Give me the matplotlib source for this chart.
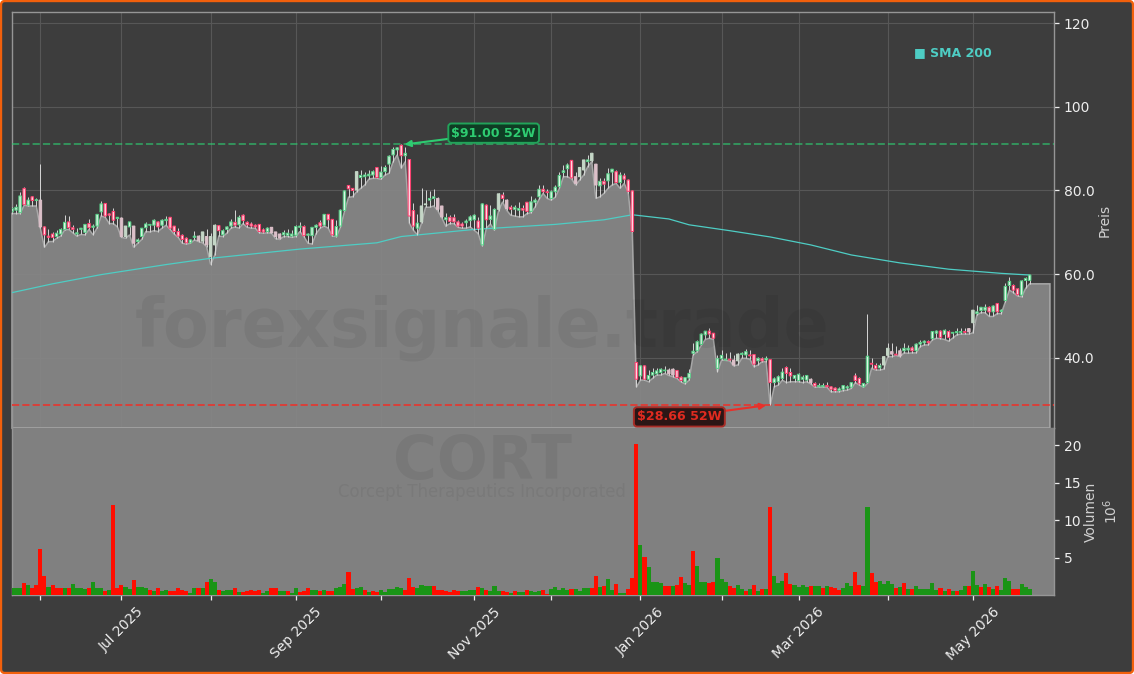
from matplotlib import pyplot as plt
from matplotlib.patches import FancyBboxPatch
from matplotlib.transforms import IdentityTransform

# Daily candles, one row of ten per line
opens = [
    74.9, 75.3, 74.7, 80.5, 76.5, 78.5, 77.6, 77.7, 71.3, 69.1,
    69.6, 69.0, 69.6, 70.7, 72.5, 71.1, 69.6, 70.7, 70.0, 72.1,
    71.2, 71.5, 74.9, 76.9, 74.4, 75.0, 73.3, 73.4, 69.0, 71.3,
    71.5, 67.8, 69.0, 71.1, 71.7, 71.7, 72.5, 71.7, 72.8, 73.6,
    71.5, 70.2, 69.3, 68.6, 67.5, 68.8, 69.1, 67.9, 69.0, 64.2,
    67.0, 71.6, 69.4, 70.7, 71.5, 72.4, 71.8, 74.1, 72.4, 72.0,
    71.7, 71.9, 70.6, 70.2, 71.2, 70.1, 69.6, 69.4, 69.3, 69.1,
    69.3, 71.2, 71.4, 69.3, 69.2, 71.2, 72.3, 71.7, 74.3, 73.1,
    69.1, 71.5, 75.2, 81.2, 80.5, 80.1, 83.1, 83.3, 83.5, 83.7,
    85.5, 83.1, 84.5, 86.3, 88.5, 89.7, 90.8, 88.3, 87.4, 75.2,
    71.0, 72.5, 76.6, 77.7, 78.1, 78.1, 76.3, 73.0, 73.6, 73.5,
    72.5, 72.0, 72.3, 72.8, 73.0, 72.7, 67.0, 76.5, 73.1, 70.7,
    75.5, 78.9, 77.7, 76.0, 75.5, 75.3, 75.7, 77.2, 75.0, 77.2,
    78.5, 80.3, 79.7, 78.1, 79.7, 80.9, 84.3, 85.2, 87.2, 83.3,
    83.3, 84.9, 86.9, 87.1, 86.3, 81.1, 82.2, 82.3, 84.4, 84.5,
    81.9, 83.5, 82.5, 79.9, 38.9, 35.7, 38.1, 34.9, 35.9, 36.2,
    36.5, 36.9, 37.1, 37.3, 37.0, 35.4, 34.2, 35.2, 41.1, 41.7,
    43.2, 45.5, 46.4, 45.9, 37.5, 39.8, 39.5, 39.7, 39.5, 39.3,
    40.8, 40.7, 40.7, 40.8, 39.3, 39.8, 39.5, 39.6, 34.1, 34.3,
    35.1, 37.7, 36.5, 35.1, 34.6, 34.9, 34.7, 34.9, 33.9, 33.1,
    33.1, 33.4, 33.1, 32.8, 32.2, 32.5, 32.8, 33.0, 35.7, 35.1,
    33.1, 34.1, 38.7, 38.2, 37.6, 38.3, 40.6, 41.5, 40.9, 41.7,
    41.7, 41.9, 42.4, 41.7, 43.3, 43.6, 43.9, 44.6, 45.9, 46.4,
    45.6, 46.3, 45.9, 46.0, 46.1, 46.3, 47.0, 48.4, 50.6, 51.3,
    51.4, 52.1, 51.0, 53.0, 51.1, 53.7, 57.3, 57.3, 56.5, 55.0,
    58.5, 58.5,
]
highs = [
    76.1, 76.8, 79.7, 80.8, 78.5, 78.7, 78.1, 86.3, 71.6, 70.7,
    70.2, 70.6, 71.1, 74.1, 73.9, 71.7, 71.0, 71.0, 72.1, 73.1,
    72.0, 74.5, 77.4, 77.1, 74.7, 75.8, 73.7, 73.6, 71.5, 72.5,
    71.6, 68.6, 71.1, 72.5, 72.0, 73.3, 72.8, 73.3, 73.9, 73.7,
    71.6, 71.1, 69.6, 68.8, 68.3, 70.3, 69.4, 70.2, 70.7, 69.8,
    71.9, 71.8, 70.8, 71.6, 73.1, 75.3, 74.1, 74.5, 72.8, 72.5,
    72.1, 72.1, 71.0, 71.2, 71.3, 70.2, 69.8, 70.6, 70.7, 70.6,
    71.7, 72.5, 71.7, 69.8, 71.3, 72.0, 73.0, 74.5, 74.5, 73.3,
    73.0, 75.5, 80.0, 81.3, 80.7, 84.6, 84.9, 84.5, 84.9, 84.9,
    85.7, 85.9, 86.1, 88.5, 90.5, 90.5, 91.0, 90.3, 87.5, 77.0,
    74.5, 80.5, 80.1, 79.9, 80.3, 78.4, 76.4, 74.7, 74.1, 74.4,
    73.0, 72.5, 73.3, 74.1, 74.3, 73.7, 76.9, 76.7, 76.5, 75.7,
    79.3, 79.7, 77.9, 76.5, 76.5, 77.3, 76.5, 77.3, 78.7, 78.1,
    81.3, 81.3, 80.3, 80.1, 81.3, 84.5, 86.1, 86.5, 87.3, 84.5,
    85.7, 87.4, 88.5, 89.0, 86.4, 83.1, 83.1, 85.3, 85.2, 84.9,
    84.5, 84.1, 82.7, 80.0, 39.0, 38.3, 38.3, 37.1, 37.5, 37.7,
    37.7, 38.1, 37.5, 37.5, 37.1, 35.7, 35.5, 37.3, 43.5, 44.3,
    45.9, 46.5, 47.1, 46.0, 40.7, 42.0, 41.2, 41.3, 40.7, 41.1,
    41.5, 42.1, 41.9, 40.9, 40.3, 40.3, 40.5, 39.7, 35.5, 35.9,
    37.5, 38.1, 37.5, 35.9, 36.3, 35.9, 35.9, 35.1, 34.3, 34.1,
    34.1, 34.3, 33.4, 33.0, 33.0, 33.5, 33.5, 34.3, 36.3, 35.4,
    34.1, 50.4, 39.9, 38.7, 38.7, 40.5, 43.5, 43.5, 42.8, 42.3,
    43.5, 43.1, 42.8, 43.5, 44.3, 44.3, 44.3, 46.5, 46.7, 46.7,
    46.8, 46.7, 46.3, 47.1, 47.1, 47.2, 47.2, 51.5, 52.6, 52.2,
    52.9, 52.4, 52.6, 53.2, 51.6, 58.0, 59.3, 57.7, 56.6, 58.5,
    59.4, 59.9,
]
lows = [
    74.5, 74.5, 74.5, 76.5, 76.3, 76.3, 76.3, 71.0, 66.4, 67.8,
    67.8, 68.6, 69.1, 70.6, 70.7, 69.9, 69.1, 69.5, 69.4, 70.7,
    69.4, 71.1, 73.9, 73.6, 72.1, 72.1, 71.3, 68.8, 68.6, 69.4,
    66.4, 67.4, 68.3, 70.2, 70.1, 70.4, 70.2, 71.0, 71.7, 70.7,
    69.6, 68.8, 67.4, 67.2, 67.4, 68.2, 67.8, 67.5, 66.6, 62.3,
    64.6, 69.1, 69.0, 69.8, 71.0, 71.3, 71.0, 72.1, 71.2, 71.0,
    71.0, 69.9, 69.8, 69.9, 69.8, 68.5, 68.3, 69.0, 69.0, 68.8,
    69.0, 70.2, 69.0, 67.4, 67.2, 69.7, 71.0, 71.5, 71.0, 69.1,
    69.0, 71.2, 75.0, 78.4, 78.5, 79.7, 80.5, 81.3, 82.7, 82.9,
    82.9, 82.7, 83.7, 84.1, 86.9, 88.5, 85.3, 86.9, 72.2, 70.5,
    69.4, 72.2, 76.0, 76.0, 76.3, 75.2, 73.5, 71.5, 72.1, 72.1,
    71.2, 71.0, 71.0, 71.3, 70.5, 69.7, 66.7, 71.0, 72.0, 70.5,
    75.2, 77.3, 75.3, 74.1, 73.9, 73.7, 73.7, 74.5, 74.7, 76.0,
    77.9, 79.3, 78.1, 77.7, 78.4, 80.5, 83.3, 83.3, 82.8, 81.3,
    82.5, 83.7, 85.7, 86.9, 78.1, 78.5, 79.3, 80.5, 81.3, 81.7,
    80.5, 81.7, 79.5, 70.0, 33.0, 34.7, 34.7, 34.3, 35.1, 35.9,
    35.9, 36.3, 35.8, 35.5, 35.1, 34.3, 33.8, 34.7, 40.7, 41.5,
    43.0, 44.4, 44.7, 44.4, 36.7, 39.5, 39.4, 39.3, 38.1, 38.3,
    39.9, 39.9, 39.7, 37.9, 38.3, 39.1, 39.1, 28.66, 33.1, 33.5,
    34.7, 34.1, 34.3, 34.3, 34.3, 34.1, 34.3, 33.8, 33.0, 33.0,
    33.0, 33.0, 31.9, 31.9, 31.9, 32.2, 32.3, 32.7, 34.1, 33.5,
    33.0, 33.9, 37.5, 37.1, 37.1, 37.3, 40.3, 40.3, 40.6, 40.3,
    41.2, 41.1, 41.2, 41.2, 42.7, 43.1, 43.1, 44.3, 44.7, 44.6,
    44.4, 44.0, 44.7, 45.5, 45.7, 45.7, 45.7, 46.0, 50.3, 50.8,
    50.8, 49.9, 49.9, 50.6, 50.6, 53.4, 56.2, 55.6, 54.8, 54.6,
    56.6, 57.7,
]
closes = [
    75.7, 76.0, 78.7, 76.6, 77.7, 77.6, 77.8, 71.3, 69.4, 68.8,
    68.8, 69.8, 70.7, 72.4, 71.1, 70.7, 69.9, 71.0, 71.9, 71.1,
    71.5, 74.3, 76.8, 73.9, 74.1, 72.9, 73.6, 69.0, 71.5, 72.5,
    67.4, 68.2, 71.0, 72.0, 71.9, 72.9, 71.3, 72.9, 73.1, 71.0,
    70.2, 69.1, 68.3, 67.5, 68.2, 69.1, 68.0, 70.1, 67.0, 69.0,
    71.7, 70.4, 70.4, 71.3, 72.5, 71.7, 73.6, 72.8, 71.8, 71.5,
    71.3, 70.2, 70.1, 71.0, 69.9, 69.0, 68.6, 69.9, 69.8, 69.6,
    71.4, 71.5, 69.2, 69.6, 71.2, 71.7, 71.5, 74.3, 73.0, 69.4,
    71.4, 75.3, 79.9, 80.4, 80.0, 84.5, 83.6, 83.7, 83.9, 84.5,
    83.1, 84.4, 85.5, 88.2, 89.8, 90.2, 88.3, 88.9, 73.9, 71.5,
    72.2, 76.3, 76.8, 78.1, 78.5, 75.5, 73.7, 73.5, 72.6, 72.5,
    71.5, 71.5, 72.7, 73.7, 74.1, 71.0, 76.8, 73.0, 73.9, 75.5,
    79.2, 78.1, 75.7, 75.5, 76.0, 75.7, 75.3, 75.0, 77.3, 77.7,
    80.3, 79.7, 79.5, 79.7, 80.8, 83.6, 84.7, 86.1, 83.0, 81.7,
    85.5, 87.3, 87.3, 88.9, 81.3, 82.2, 81.5, 84.0, 85.1, 81.9,
    83.7, 82.7, 79.8, 70.2, 34.9, 38.1, 34.9, 35.8, 36.5, 36.9,
    37.3, 37.1, 36.2, 35.9, 35.3, 34.6, 35.3, 36.3, 41.6, 43.9,
    45.7, 46.4, 45.7, 44.7, 39.8, 40.6, 39.7, 39.5, 38.3, 40.9,
    41.1, 41.5, 40.5, 38.5, 39.9, 39.3, 39.9, 34.1, 35.0, 35.5,
    36.6, 36.3, 35.7, 35.8, 36.1, 35.4, 35.8, 34.1, 33.3, 33.4,
    33.4, 33.1, 32.5, 32.2, 32.6, 33.4, 33.1, 34.1, 34.6, 33.8,
    33.9, 40.4, 38.5, 37.4, 38.2, 40.3, 42.3, 40.9, 40.7, 40.5,
    42.3, 42.3, 41.7, 43.3, 43.7, 44.0, 43.6, 46.3, 46.4, 44.9,
    46.6, 44.9, 46.1, 46.3, 46.3, 46.1, 46.2, 51.4, 51.0, 52.1,
    52.1, 51.0, 52.4, 51.0, 51.4, 57.1, 58.3, 56.2, 55.1, 58.4,
    59.0, 59.8,
]

# in millions of shares
volumes = [
    1.0, 0.95, 1.0, 1.6, 1.4, 1.0, 1.3, 6.2, 2.5, 1.1,
    1.3, 1.0, 1.0, 1.0, 0.9, 1.5, 1.0, 0.9, 0.8, 0.9,
    1.7, 1.0, 0.9, 0.6, 0.7, 12.0, 1.0, 1.4, 1.1, 0.8,
    2.0, 1.1, 1.1, 0.9, 0.7, 0.6, 1.0, 0.6, 0.7, 0.6,
    0.6, 0.9, 0.7, 0.6, 0.3, 0.9, 0.9, 0.9, 1.7, 2.1,
    1.8, 0.7, 0.6, 0.7, 0.7, 1.0, 0.45, 0.45, 0.6, 0.7,
    0.6, 0.7, 0.3, 0.6, 0.9, 0.9, 0.6, 0.6, 0.6, 0.3,
    0.9, 0.45, 0.6, 1.0, 0.7, 0.7, 0.6, 0.7, 0.6, 0.6,
    0.95, 1.1, 1.5, 3.1, 0.8, 0.95, 1.1, 0.7, 0.4, 0.55,
    0.4, 0.7, 0.4, 0.8, 0.8, 1.1, 0.95, 0.7, 2.3, 1.1,
    0.95, 1.35, 1.2, 1.2, 1.2, 0.7, 0.7, 0.55, 0.4, 0.7,
    0.55, 0.55, 0.55, 0.7, 0.7, 1.1, 0.95, 0.7, 0.55, 1.2,
    0.55, 0.55, 0.4, 0.3, 0.55, 0.4, 0.4, 0.7, 0.55, 0.4,
    0.55, 0.7, 0.2, 0.8, 1.1, 0.7, 0.95, 0.7, 0.8, 0.8,
    0.55, 0.95, 0.95, 0.95, 2.6, 1.1, 1.2, 2.2, 0.7, 1.5,
    0.3, 0.3, 0.8, 2.3, 20.2, 6.7, 5.1, 3.8, 1.8, 1.8,
    1.6, 1.2, 1.2, 1.2, 1.35, 2.45, 1.6, 1.35, 5.9, 3.9,
    1.8, 1.8, 1.6, 1.8, 5.0, 2.2, 1.8, 1.2, 0.9, 1.35,
    0.8, 0.55, 0.8, 1.35, 0.55, 0.8, 0.8, 11.7, 2.6, 1.65,
    1.9, 3.0, 1.5, 1.35, 1.1, 1.35, 1.1, 1.2, 1.2, 1.2,
    0.95, 1.2, 1.1, 0.95, 0.7, 0.95, 1.65, 1.2, 3.1, 1.35,
    1.2, 11.7, 3.0, 1.8, 1.9, 1.5, 1.9, 1.5, 0.95, 1.1,
    1.65, 0.8, 0.8, 1.2, 0.8, 0.8, 0.8, 1.65, 0.7, 0.95,
    0.55, 0.8, 0.55, 0.55, 0.7, 1.2, 1.2, 3.2, 1.35, 1.1,
    1.5, 1.1, 0.8, 1.2, 0.7, 2.3, 1.9, 0.8, 0.8, 1.5,
    1.1, 0.8,
]
vol_dir = (
    "gggrgrrrrg" "rrrgrggggr" "gggrgrrrgg" "rgggrgrggr" "rrrrggrgrg"
    "grgggrgrrr" "rrggrrggrg" "grrrggrgrr" "gggrrggrgr" "rggggggrrr"
    "ggggrrrrrr" "rggggrgrgg" "grrgrggrgg" "grrgggggrg" "gggrrgrggr"
    "ggrrrgrggg" "grrgrrggrg" "ggrrgggrrg" "grgrgrgrgg" "grrggggrgg"
    "rgrrrgggrr" "ggrrggggrg" "rgrggggggr" "grgrggrggr" "grgrgggrrg"
    "gg"
)

# candles that are drawn washed out in the original
pale = [7, 27, 28, 30, 46, 47, 48, 49, 50, 64, 65, 66, 85, 101, 102, 105, 106,
        120, 122, 139, 140, 141, 143, 144, 162, 163, 178, 179, 197, 215, 216,
        217, 219, 236, 237]

sma_pos = [0, 10, 22, 38, 49, 63, 71, 90, 96, 114, 134, 146, 153, 162, 167,
           177, 187, 197, 207, 219, 231, 244, 251]
sma_val = [55.6, 57.7, 59.9, 62.3, 63.8, 65.2, 66.0, 67.5, 69.0, 70.7, 71.9,
           73.0, 74.2, 73.2, 71.8, 70.4, 68.9, 67.0, 64.6, 62.7, 61.2, 60.2, 59.8]

month_pos = [7, 27, 49, 70, 91, 114, 133, 155, 175, 194, 216, 237]
month_labels = ['', 'Jul 2025', '', 'Sep 2025', '', 'Nov 2025', '', 'Jan 2026',
                '', 'Mar 2026', '', 'May 2026']

high_52w = 91.00
low_52w = 28.66

BG = '#3d3d3d'
W, H = 1134, 674

fig = plt.figure(figsize=(W / 100, H / 100), dpi=100, facecolor='white')

# rounded orange frame
frame = FancyBboxPatch((5, 5), W - 10, H - 10, boxstyle='round,pad=4,rounding_size=4',
                       facecolor=BG, edgecolor='#f2600c', linewidth=1.7,
                       transform=IdentityTransform())
fig.add_artist(frame)
frame.set_zorder(-5)

ax = fig.add_axes([12 / W, (H - 428) / H, 1042 / W, 416 / H], facecolor=BG)
vax = fig.add_axes([12 / W, (H - 595) / H, 1042 / W, 167 / H], facecolor='#808080', sharex=ax)

x = list(range(len(closes)))

ax.grid(color='#575757', linewidth=0.8, zorder=0)
ax.set_axisbelow(True)

# area under the lows, runs on flat for a few bars past the last candle
area_x = [0] + x + [x[-1] + i for i in range(1, 6)] + [x[-1] + 5]
area_y = [23.25] + lows + [lows[-1]] * 5 + [23.25]
ax.fill(area_x, area_y, facecolor='#878787', edgecolor='#adadad', linewidth=1.1,
        alpha=0.93, zorder=2, clip_on=False)

ax.plot(sma_pos, sma_val, color='#4ecdc4', linewidth=0.9, zorder=3)

# candles
for i in x:
    up = closes[i] >= opens[i]
    if i in pale:
        edge = '#c4d6c6' if up else '#dcc0c9'
        face = edge
    else:
        edge = '#58d088' if up else '#ff4070'
        face = '#dcf5e4' if up else '#ffd6e0'
    ax.vlines(i, lows[i], highs[i], color='#d6d6d6', linewidth=0.7, zorder=4)
    ax.bar(i, abs(closes[i] - opens[i]), bottom=min(opens[i], closes[i]), width=0.6,
           facecolor=face, edgecolor=edge, linewidth=0.75, zorder=5, snap=False)

ax.axhline(high_52w, color='#2ecc71', linestyle='--', linewidth=1.4, alpha=0.6, zorder=3)
ax.axhline(low_52w, color='#d9403a', linestyle='--', linewidth=1.4, zorder=3)

ax.annotate(r'\$91.00 52W', xy=(96.8, high_52w), xytext=(118.8, 93.7),
            color='#2ecc71', fontsize=9.1, fontweight='bold', ha='center', va='center',
            bbox=dict(boxstyle='round,pad=0.25', facecolor='#0f3d24', edgecolor='#22a35a', linewidth=1.4),
            arrowprops=dict(arrowstyle='-|>', color='#2ecc71', linewidth=1.5, shrinkA=0, shrinkB=0),
            zorder=8)
ax.annotate(r'\$28.66 52W', xy=(186, low_52w), xytext=(164.6, 25.9),
            color='#e02b20', fontsize=9.1, fontweight='bold', ha='center', va='center',
            bbox=dict(boxstyle='round,pad=0.25', facecolor='#2b1616', edgecolor='#a62c26', linewidth=1.4),
            arrowprops=dict(arrowstyle='-|>', color='#e8302a', linewidth=1.5, shrinkA=0, shrinkB=0),
            zorder=8)

ax.text(222.5, 112.9, '■ SMA 200', color='#4ecdc4', fontsize=9, fontweight='bold',
        ha='left', va='center')

# volume
vax.bar(x, volumes, width=1.0, color=['#1a9416' if d == 'g' else '#ff0d00' for d in vol_dir], zorder=3)

ax.set_xlim(0, 257)
ax.set_ylim(23.25, 122.65)
vax.set_ylim(0, 22.3)

ax.set_yticks([40, 60, 80, 100, 120])
ax.set_yticklabels(['40.0', '60.0', '80.0', '100', '120'])
vax.set_yticks([5, 10, 15, 20])
vax.set_xticks(month_pos)
vax.set_xticklabels(month_labels, rotation=45, ha='center')

for a in (ax, vax):
    a.yaxis.tick_right()
    a.yaxis.set_label_position('right')
    a.tick_params(colors='#eeeeee', labelsize=10, length=3.5, width=0.9)
    for side in a.spines:
        a.spines[side].set_color('#969696')
        a.spines[side].set_linewidth(1.0)
ax.tick_params(bottom=False, labelbottom=False)
vax.spines['top'].set_visible(False)

ax.set_ylabel('Preis', color='#d0d0d0', fontsize=10, labelpad=2)
vax.set_ylabel('Volumen\n$10^{6}$', color='#d0d0d0', fontsize=10, labelpad=2)

# watermark
fig.text(482 / W, 1 - 328 / H, 'forexsignale.trade', color='black', alpha=0.06, fontsize=48,
         fontweight='bold', ha='center', va='center', zorder=6)
fig.text(482 / W, 1 - 463 / H, 'CORT', color='black', alpha=0.06, fontsize=43,
         fontweight='bold', ha='center', va='center', zorder=6)
fig.text(482 / W, 1 - 492 / H, 'Corcept Therapeutics Incorporated', color='black', alpha=0.05,
         fontsize=11.9, ha='center', va='center', zorder=6)

fig.savefig('out.png', dpi=100, facecolor=fig.get_facecolor())
